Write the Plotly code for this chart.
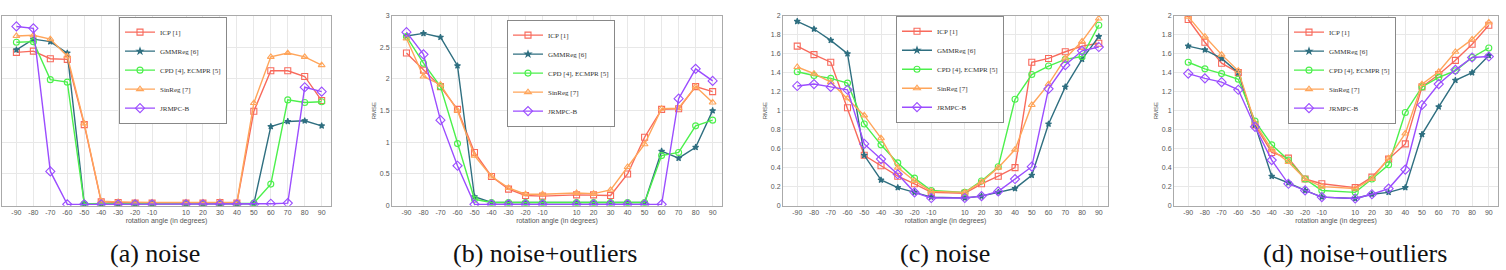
import plotly.graph_objects as go

angles = [-90, -80, -70, -60, -50, -40, -30, -20, -10, 10, 20, 30, 40, 50, 60, 70, 80, 90]
tick_labels = [str(a) for a in angles]
series_names = ["ICP [1]", "GMMReg [6]", "CPD [4], ECMPR [5]", "SinReg [7]", "JRMPC-B"]
captions = ["(a) noise", "(b) noise+outliers", "(c) noise", "(d) noise+outliers"]

# Panel (a): noise
a_icp = [2.42, 2.44, 2.32, 2.31, 1.28, 0.06, 0.05, 0.04, 0.04, 0.04, 0.04, 0.05, 0.04, 1.49, 2.13, 2.13, 2.04, 1.66]
a_gmm = [2.46, 2.63, 2.59, 2.41, 0.03, 0.03, 0.03, 0.03, 0.03, 0.03, 0.03, 0.03, 0.03, 0.03, 1.25, 1.33, 1.34, 1.26]
a_cpd = [2.58, 2.59, 1.99, 1.95, 0.03, 0.03, 0.03, 0.03, 0.03, 0.03, 0.03, 0.03, 0.03, 0.04, 0.34, 1.67, 1.63, 1.64]
a_sin = [2.68, 2.69, 2.63, 2.36, 1.30, 0.07, 0.06, 0.05, 0.05, 0.05, 0.05, 0.06, 0.05, 1.62, 2.35, 2.41, 2.35, 2.22]
a_jrm = [2.83, 2.80, 0.54, 0.02, 0.02, 0.02, 0.02, 0.02, 0.02, 0.02, 0.02, 0.02, 0.02, 0.02, 0.03, 0.04, 1.87, 1.80]

# Panel (b): noise+outliers
b_icp = [2.41, 2.14, 1.88, 1.52, 0.84, 0.46, 0.26, 0.16, 0.15, 0.17, 0.17, 0.16, 0.50, 1.08, 1.52, 1.53, 1.88, 1.80]
b_gmm = [2.68, 2.72, 2.66, 2.21, 0.14, 0.05, 0.05, 0.05, 0.05, 0.05, 0.05, 0.05, 0.05, 0.05, 0.86, 0.75, 0.92, 1.50]
b_cpd = [2.67, 2.25, 1.88, 0.98, 0.10, 0.05, 0.05, 0.05, 0.05, 0.05, 0.05, 0.05, 0.05, 0.05, 0.79, 0.84, 1.26, 1.35]
b_sin = [2.64, 2.04, 1.91, 1.50, 0.79, 0.46, 0.28, 0.18, 0.18, 0.20, 0.19, 0.25, 0.61, 0.97, 1.53, 1.54, 1.88, 1.63]
b_jrm = [2.74, 2.39, 1.35, 0.63, 0.02, 0.02, 0.02, 0.02, 0.02, 0.02, 0.02, 0.02, 0.02, 0.02, 0.02, 1.69, 2.16, 1.97]

# Panel (c): noise
c_icp = [1.68, 1.59, 1.51, 1.03, 0.53, 0.42, 0.31, 0.23, 0.14, 0.13, 0.23, 0.31, 0.40, 1.51, 1.55, 1.62, 1.68, 1.71]
c_gmm = [1.94, 1.86, 1.74, 1.60, 0.53, 0.27, 0.19, 0.14, 0.09, 0.08, 0.10, 0.14, 0.18, 0.32, 0.86, 1.25, 1.54, 1.78]
c_cpd = [1.41, 1.37, 1.34, 1.29, 0.86, 0.64, 0.45, 0.29, 0.16, 0.14, 0.26, 0.41, 1.12, 1.38, 1.47, 1.54, 1.57, 1.90]
c_sin = [1.46, 1.39, 1.30, 1.13, 0.95, 0.71, 0.40, 0.26, 0.15, 0.14, 0.25, 0.40, 0.59, 1.06, 1.28, 1.55, 1.73, 1.97]
c_jrm = [1.26, 1.28, 1.25, 1.22, 0.65, 0.49, 0.33, 0.14, 0.08, 0.08, 0.10, 0.15, 0.28, 0.41, 1.23, 1.48, 1.63, 1.67]

# Panel (d): noise+outliers
d_icp = [1.96, 1.72, 1.50, 1.40, 0.85, 0.56, 0.50, 0.28, 0.23, 0.19, 0.30, 0.49, 0.65, 1.25, 1.38, 1.53, 1.70, 1.90]
d_gmm = [1.68, 1.64, 1.55, 1.40, 0.85, 0.31, 0.24, 0.16, 0.09, 0.075, 0.12, 0.14, 0.19, 0.75, 1.04, 1.32, 1.40, 1.58]
d_cpd = [1.51, 1.44, 1.39, 1.33, 0.89, 0.64, 0.48, 0.28, 0.16, 0.14, 0.28, 0.43, 0.98, 1.25, 1.35, 1.42, 1.56, 1.66]
d_sin = [1.99, 1.78, 1.59, 1.42, 0.87, 0.59, 0.46, 0.28, 0.20, 0.18, 0.28, 0.50, 0.76, 1.28, 1.41, 1.62, 1.75, 1.93]
d_jrm = [1.39, 1.34, 1.30, 1.22, 0.83, 0.48, 0.23, 0.16, 0.09, 0.075, 0.12, 0.18, 0.38, 1.06, 1.28, 1.43, 1.56, 1.57]

panels = [
    [a_icp, a_gmm, a_cpd, a_sin, a_jrm],
    [b_icp, b_gmm, b_cpd, b_sin, b_jrm],
    [c_icp, c_gmm, c_cpd, c_sin, c_jrm],
    [d_icp, d_gmm, d_cpd, d_sin, d_jrm],
]
y_max = [3, 3, 2, 2]
y_dtick = [0.5, 0.5, 0.2, 0.2]

colors = ["#f86a5c", "#2f6f80", "#4cf04c", "#ffa55a", "#9b4dff"]
symbols = ["square-open", "star", "circle-open", "triangle-up-open", "diamond-open"]
msizes = [6, 4.5, 6, 6, 7]

W, H = 1506, 270
# plot-area pixel boxes (left, right)
px_boxes = [(2, 331), (392, 722), (783, 1108), (1174, 1498)]
top_px, bot_px = 12, 207
legend_px = [(119, 13), (507, 16), (896, 12), (1288, 13)]
caption_x = [155, 545, 945, 1355]

fig = go.Figure()
layout = dict(
    width=W, height=H, margin=dict(l=0, r=0, t=0, b=0),
    paper_bgcolor="white", plot_bgcolor="white",
    showlegend=True,
)

for p in range(4):
    sfx = "" if p == 0 else str(p + 1)
    leg = "legend" if p == 0 else f"legend{p + 1}"
    for s in range(5):
        fig.add_trace(go.Scatter(
            x=angles, y=panels[p][s], name=series_names[s], mode="lines+markers",
            line=dict(color=colors[s], width=1.4),
            marker=dict(symbol=symbols[s], size=msizes[s], color=colors[s],
                        line=dict(color=colors[s], width=1.1)),
            xaxis="x" + sfx, yaxis="y" + sfx, legend=leg,
        ))
    l, r = px_boxes[p]
    layout["xaxis" + sfx] = dict(
        domain=[l / W, r / W], anchor="y" + sfx, range=[-98.5, 95.5],
        tickmode="array", tickvals=angles, ticktext=tick_labels,
        showgrid=True, gridcolor="#e8e8e8", gridwidth=1,
        showline=True, linecolor="#aaaaaa", linewidth=1, mirror=True,
        zeroline=False, ticks="",
        tickfont=dict(family="Liberation Sans", size=7, color="#555555"),
        title=dict(text="rotation angle (in degrees)", standoff=3,
                   font=dict(family="Liberation Sans", size=7, color="#555555")),
    )
    ydict = dict(
        domain=[1 - bot_px / H, 1 - top_px / H], anchor="x" + sfx,
        range=[0, y_max[p]], dtick=y_dtick[p], tick0=0,
        showgrid=True, gridcolor="#e8e8e8", gridwidth=1,
        showline=True, linecolor="#aaaaaa", linewidth=1, mirror=True,
        zeroline=False, ticks="",
        tickfont=dict(family="Liberation Sans", size=7, color="#555555"),
    )
    if p == 0:
        ydict["showticklabels"] = False
    else:
        ydict["title"] = dict(text="RMSE", standoff=2,
                              font=dict(family="Liberation Sans", size=6, color="#555555"))
    layout["yaxis" + sfx] = ydict
    lx, ly = legend_px[p]
    layout[leg] = dict(
        x=lx / W, y=1 - ly / H, xanchor="left", yanchor="top",
        bgcolor="white", bordercolor="#888888", borderwidth=1,
        font=dict(family="Liberation Serif", size=7, color="#333333"),
        tracegroupgap=0, itemwidth=30,
    )

annotations = []
for p in range(4):
    annotations.append(dict(
        text=captions[p], x=caption_x[p] / W, y=1 - 256 / H, xref="paper", yref="paper",
        xanchor="center", yanchor="middle", showarrow=False,
        font=dict(family="Liberation Serif", size=26, color="#111111"),
    ))
layout["annotations"] = annotations
fig.update_layout(**layout)
fig.write_html("out.html")
